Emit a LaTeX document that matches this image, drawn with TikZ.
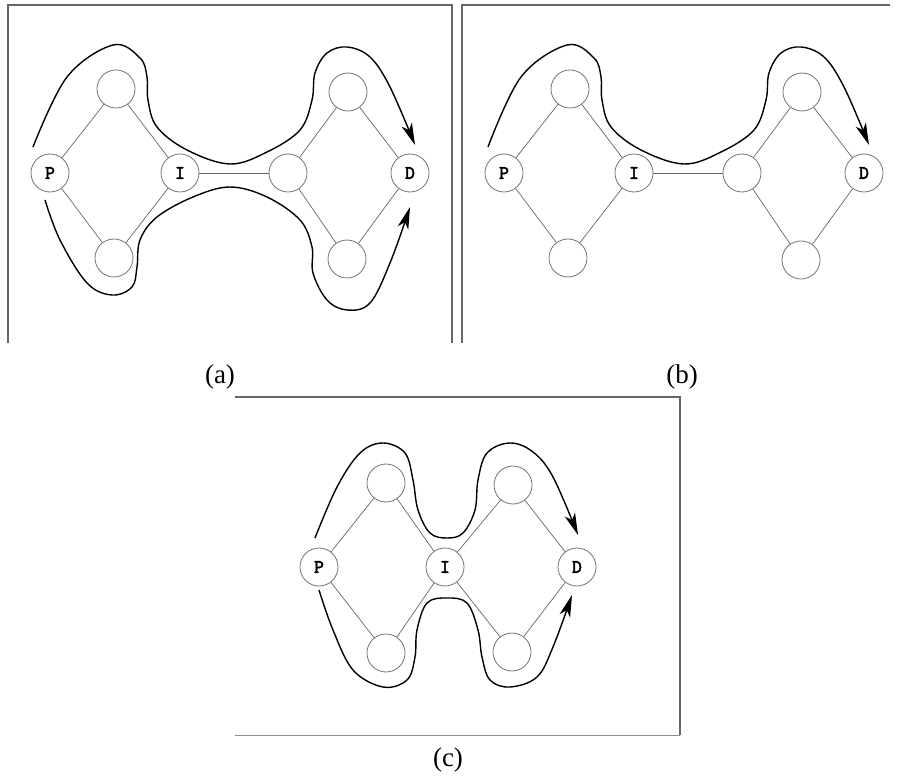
\documentclass[tikz,border=0pt]{standalone}
\usepackage{fontspec}
\setmainfont{Liberation Serif}
\newfontfamily\monob{Latin Modern Mono}[AutoFakeBold=3]
\usetikzlibrary{arrows.meta}
\begin{document}
\begin{tikzpicture}[x=1pt,y=-1pt,
  vtx/.style={circle, draw=black!55, line width=0.8pt, minimum size=38pt, inner sep=0pt, font=\monob\bfseries\fontsize{19}{19}\selectfont},
  edge/.style={draw=black!60, line width=0.7pt},
  frame/.style={draw=black!60, line width=1.2pt},
  flow/.style={draw=black, line width=1.4pt},
  tip/.style={-{Stealth[length=22pt,width=11pt,inset=6pt]}},
  caplabel/.style={font=\fontsize{27}{27}\selectfont}]
\useasboundingbox (0,0) rectangle (898,778);

% frames
\draw[frame] (8,343) -- (8,5) -- (452,5) -- (452,343);
\draw[frame] (462,343) -- (462,5) -- (890,5);
\draw[frame] (235,397) -- (680,397) -- (680,735);
\draw[draw=black!45, line width=1pt] (680,735) -- (235,735);

% ---------- panel (a)
\node[vtx] (aP) at (50,173) {P};
\node[vtx] (aTL) at (116,89) {};
\node[vtx] (aBL) at (114,258) {};
\node[vtx] (aI) at (180,173) {I};
\node[vtx] (aR) at (288,173) {};
\node[vtx] (aTR) at (348,92) {};
\node[vtx] (aBR) at (347,259) {};
\node[vtx] (aD) at (410,173) {D};
\draw[edge] (aP) -- (aTL);
\draw[edge] (aP) -- (aBL);
\draw[edge] (aTL) -- (aI);
\draw[edge] (aBL) -- (aI);
\draw[edge] (aI) -- (aR);
\draw[edge] (aR) -- (aTR);
\draw[edge] (aR) -- (aBR);
\draw[edge] (aTR) -- (aD);
\draw[edge] (aBR) -- (aD);
\draw[flow,tip] plot[smooth, tension=0.6] coordinates {(33,147) (67,77) (113,45) (140,58) (147,77) (148,100) (157,127) (187,150) (230,164) (267,152) (300,130) (312,100) (315,73) (327,53) (347,47) (370,57) (390,87) (415,145)};
\draw[flow,tip] plot[smooth, tension=0.6] coordinates {(45,200) (60,240) (87,283) (112,295) (132,287) (137,267) (140,240) (157,217) (193,197) (230,187) (267,197) (300,220) (312,247) (313,273) (327,300) (347,310) (370,303) (390,263) (410,207)};
\node[caplabel] (la) at (220,377) {(a)};

% ---------- panel (b)
\node[vtx] (bP) at (504,173) {P};
\node[vtx] (bTL) at (570,89) {};
\node[vtx] (bBL) at (568,258) {};
\node[vtx] (bI) at (634,173) {I};
\node[vtx] (bR) at (742,173) {};
\node[vtx] (bTR) at (802,92) {};
\node[vtx] (bBR) at (801,260) {};
\node[vtx] (bD) at (864,173) {D};
\draw[edge] (bP) -- (bTL);
\draw[edge] (bP) -- (bBL);
\draw[edge] (bTL) -- (bI);
\draw[edge] (bBL) -- (bI);
\draw[edge] (bI) -- (bR);
\draw[edge] (bR) -- (bTR);
\draw[edge] (bR) -- (bBR);
\draw[edge] (bTR) -- (bD);
\draw[edge] (bBR) -- (bD);
\draw[flow,tip] plot[smooth, tension=0.6] coordinates {(488,147) (521,77) (567,45) (594,58) (601,77) (602,100) (611,127) (641,150) (684,164) (721,152) (754,130) (766,100) (769,73) (781,53) (801,47) (824,57) (844,87) (869,145)};
\node[caplabel] (lb) at (682,377) {(b)};

% ---------- panel (c)
\node[vtx] (cP) at (319,567) {P};
\node[vtx] (cTL) at (386,483) {};
\node[vtx] (cBL) at (386,653) {};
\node[vtx] (cI) at (445,567) {I};
\node[vtx] (cTR) at (513,485) {};
\node[vtx] (cBR) at (512,652) {};
\node[vtx] (cD) at (577,567) {D};
\draw[edge] (cP) -- (cTL);
\draw[edge] (cP) -- (cBL);
\draw[edge] (cTL) -- (cI);
\draw[edge] (cBL) -- (cI);
\draw[edge] (cI) -- (cTR);
\draw[edge] (cI) -- (cBR);
\draw[edge] (cTR) -- (cD);
\draw[edge] (cBR) -- (cD);
\draw[flow,tip] plot[smooth, tension=0.6] coordinates {(315,538) (337,487) (360,453) (383,443) (405,453) (413,480) (418,510) (430,533) (447,538) (463,533) (475,510) (478,480) (487,453) (510,443) (533,452) (553,477) (578,535)};
\draw[flow,tip] plot[smooth, tension=0.6] coordinates {(319,590) (333,630) (353,670) (383,687) (407,680) (415,657) (417,630) (427,603) (447,598) (467,603) (478,630) (482,657) (490,680) (510,687) (537,677) (553,647) (572,595)};
\node[caplabel] (lc) at (448,760) {(c)};
\end{tikzpicture}
\end{document}
